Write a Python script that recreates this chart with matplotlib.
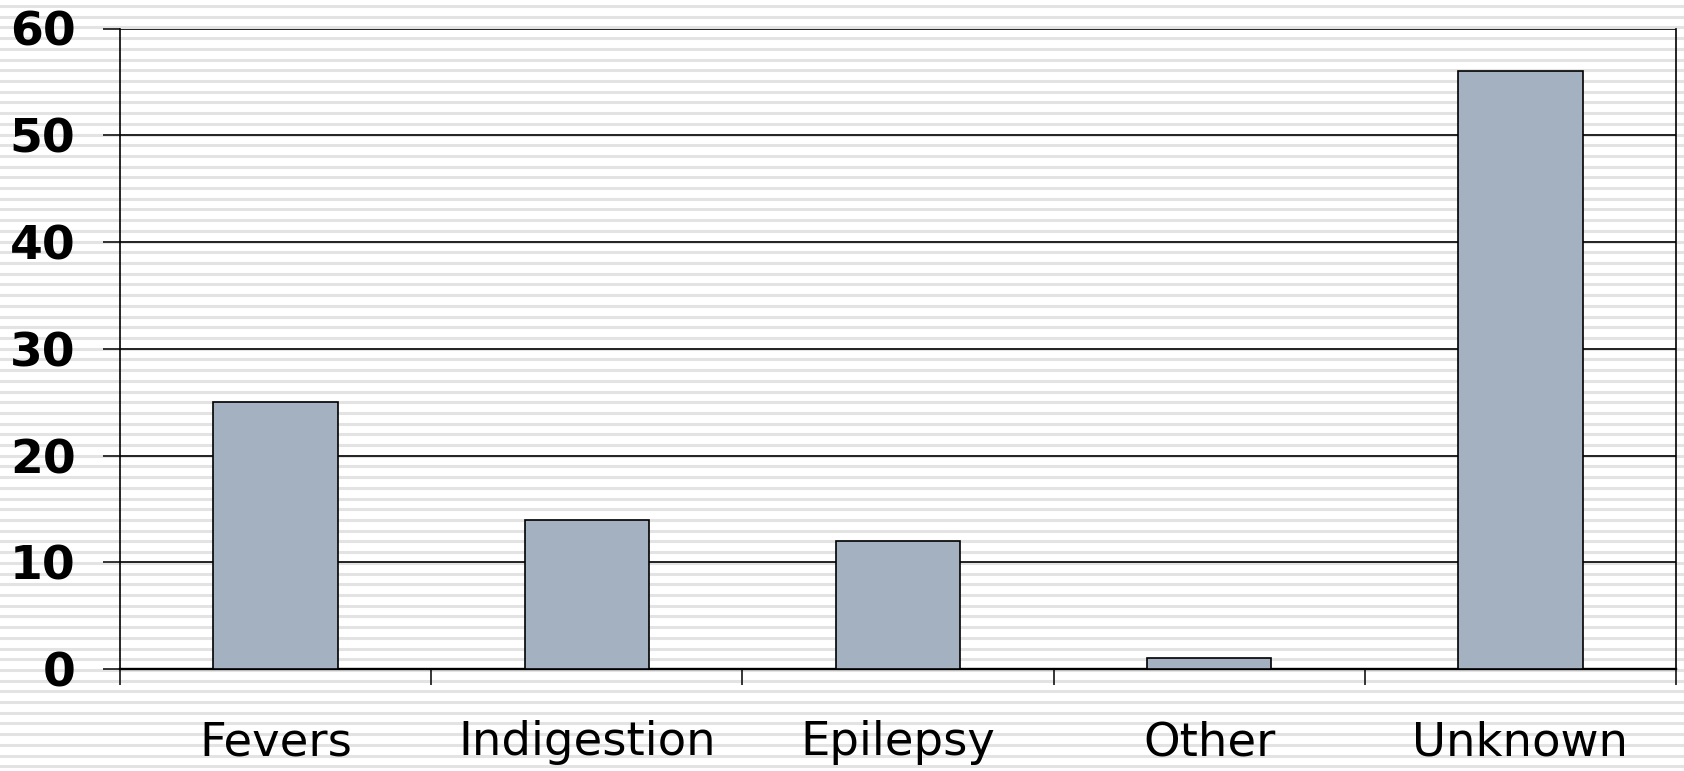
import matplotlib.pyplot as plt
import numpy as np

# causes of death counts
causes = ['Fevers', 'Indigestion', 'Epilepsy', 'Other', 'Unknown']
counts = [25, 14, 12, 1, 56]

W, H = 1684, 771
fig = plt.figure(figsize=(W / 100, H / 100), dpi=100)
fig.patch.set_facecolor('white')

# striped background over the whole figure
bg = fig.add_axes([0, 0, 1, 1], zorder=-1)
bg.set_xlim(0, W)
bg.set_ylim(H, 0)
bg.axis('off')
for y in np.arange(6, H, H / 72):
    bg.axhline(y, color='#e3e3e3', lw=2.2)

ax = fig.add_axes([120 / W, (H - 669) / H, (1676 - 120) / W, (669 - 28.5) / H])
ax.set_facecolor('none')

x = np.arange(len(causes))
ax.bar(x, counts, width=0.4, color='#a3b1c1', edgecolor='black', linewidth=1.2, zorder=3)

ax.set_xlim(-0.5, len(causes) - 0.5)
ax.set_ylim(0, 60)
ax.set_yticks(range(0, 61, 10))
ax.yaxis.grid(True, color='black', lw=1.2)
ax.set_axisbelow(True)

# category boundaries carry the ticks, labels sit between them
ax.set_xticks(np.arange(-0.5, len(causes)), minor=False)
ax.set_xticklabels([])
ax.set_xticks(x, minor=True)
ax.set_xticklabels(causes, minor=True, fontsize=33.5)
ax.tick_params(axis='x', which='minor', length=0, pad=37)
ax.tick_params(axis='x', which='major', length=11.5, width=1.1, color='black')
ax.tick_params(axis='y', length=12, width=1.1, pad=20, labelsize=34)
for lab in ax.get_yticklabels():
    lab.set_fontweight('bold')

for side in ['left', 'right', 'bottom']:
    ax.spines[side].set_color('black')
    ax.spines[side].set_linewidth(1.2)
ax.spines['bottom'].set_linewidth(1.7)
ax.spines['top'].set_visible(False)
ax.spines['right'].set_bounds(0, 60)

fig.savefig('out.png', dpi=100)
